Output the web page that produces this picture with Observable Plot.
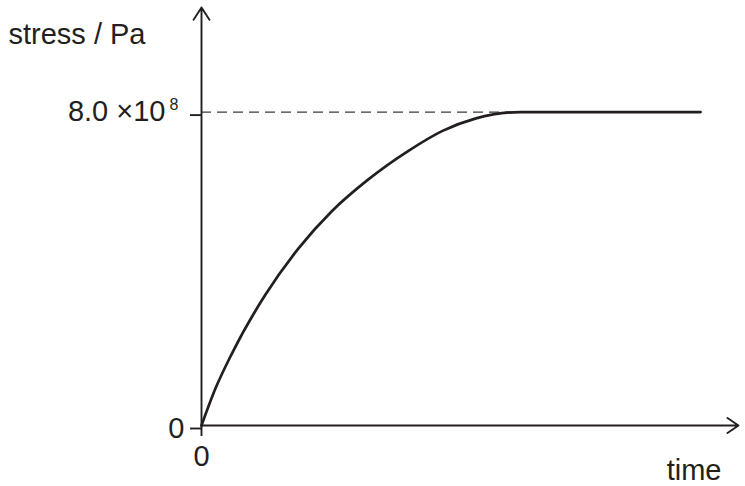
<!DOCTYPE html>
<html>
<head>
<meta charset="utf-8">
<script src="https://cdn.jsdelivr.net/npm/d3@7"></script>
<script src="https://cdn.jsdelivr.net/npm/@observablehq/plot@0.6"></script>
<style>
  html, body { margin: 0; padding: 0; background: #fff; }
  #chart svg { display: block; }
</style>
</head>
<body>
<div id="chart"></div>
<script>
// time (arbitrary units) and stress (in units of 1e8 Pa)
const times    = [0, 0.275, 0.607, 1.276, 1.944, 2.611, 3.312, 4.17, 4.83, 5.50, 6.39, 10];
const stresses = [0, 0.93, 1.83, 3.33, 4.52, 5.47, 6.25, 7.03, 7.52, 7.84, 8.0, 8.0];
const plateauStart = 6.39;
const plateauValue = 8;          // 8.0 × 10^8 Pa
const xMax = 10.76;              // end of the time axis arrow
const yMax = 10.67;              // end of the stress axis arrow
const yTickValues = [0, 8];
const xTickValues = [0];
const yLabelText = "stress / Pa";
const xLabelText = "time";
const plateauLabelMain = "8.0 ×10";
const plateauLabelSup = "8";

const ink = "#231f20";
const font = "'Liberation Sans', Arial, Helvetica, sans-serif";

const data = times.map((t, i) => ({t, s: stresses[i]}));

const chart = Plot.plot({
  width: 745,
  height: 486,
  marginLeft: 201,
  marginRight: 7,
  marginTop: 7,
  marginBottom: 61,
  style: {background: "#fff", fontFamily: font, color: ink},
  x: {domain: [0, xMax]},
  y: {domain: [0, yMax]},
  marks: [
    Plot.ruleY([plateauValue], {x1: 0, x2: plateauStart, stroke: "#3a3a3a", strokeWidth: 1.2, strokeDasharray: "10,6"}),
    Plot.line(data, {x: "t", y: "s", stroke: ink, strokeWidth: 2.7, curve: "monotone-x"}),
    Plot.arrow([{x1: 0, y1: 0, x2: xMax, y2: 0}], {x1: "x1", y1: "y1", x2: "x2", y2: "y2", stroke: ink, strokeWidth: 1.9, headLength: 10.5, headAngle: 68}),
    Plot.arrow([{x1: 0, y1: 0, x2: 0, y2: yMax}], {x1: "x1", y1: "y1", x2: "x2", y2: "y2", stroke: ink, strokeWidth: 1.9, headLength: 11.5, headAngle: 66}),
    Plot.axisY({ticks: yTickValues, tickSize: 11, tickPadding: 6, fontSize: 29, dy: 3, stroke: ink, strokeWidth: 1.9, fill: ink,
      tickFormat: d => d === 0 ? "0" : "", label: null}),
    Plot.axisX({ticks: xTickValues, tickSize: 11, tickPadding: 9, fontSize: 29, stroke: ink, strokeWidth: 1.9, fill: ink,
      tickFormat: d => String(d), label: null}),
    Plot.text([plateauLabelMain], {x: 0, y: plateauValue, text: d => d, textAnchor: "end", dx: -36, fontSize: 29, fill: ink}),
    Plot.text([plateauLabelSup], {x: 0, y: plateauValue, text: d => d, textAnchor: "start", dx: -32, dy: -7, fontSize: 16, fill: ink}),
    Plot.text([yLabelText], {frameAnchor: "top-left", text: d => d, textAnchor: "start", lineAnchor: "top", dx: -193, dy: 16, fontSize: 29, fill: ink}),
    Plot.text([xLabelText], {frameAnchor: "bottom-right", text: d => d, textAnchor: "end", lineAnchor: "top", dx: -17, dy: 34, fontSize: 29, fill: ink})
  ]
});
document.getElementById("chart").appendChild(chart);
</script>
</body>
</html>
